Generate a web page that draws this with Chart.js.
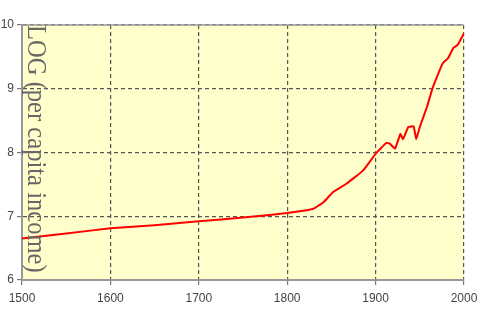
<!DOCTYPE html>
<html>
<head>
<meta charset="utf-8">
<script src="https://cdn.jsdelivr.net/npm/chart.js@4"></script>
<style>
  html, body { margin: 0; padding: 0; background: #fff; }
  #wrap { width: 480px; height: 320px; }
</style>
</head>
<body>
<div id="wrap"><canvas id="incomeChart" width="480" height="320"></canvas></div>
<script>
// years and log per capita income
const years = [1500, 1550, 1600, 1650, 1700, 1750, 1780, 1800, 1820, 1830, 1841, 1852, 1867, 1886, 1900,
  1912, 1916, 1922, 1928, 1931, 1937, 1943, 1946, 1950, 1958, 1964, 1971, 1976, 1982, 1988, 1993, 2000];
const logIncome = [6.65, 6.73, 6.81, 6.86, 6.92, 6.98, 7.02, 7.05, 7.09, 7.12, 7.22, 7.38, 7.51, 7.72, 7.98,
  8.15, 8.14, 8.06, 8.29, 8.21, 8.40, 8.41, 8.21, 8.40, 8.71, 8.99, 9.24, 9.40, 9.48, 9.64, 9.69, 9.87];
const xTicks = [1500, 1600, 1700, 1800, 1900, 2000];
const yTicks = [6, 7, 8, 9, 10];
const yTitle = 'LOG (per capita income)';

const points = years.map((yr, i) => ({ x: yr, y: logIncome[i] }));

// yellow plot background, solid top edge and the rotated title inside the plot
const plotDecor = {
  id: 'plotDecor',
  beforeDraw(chart) {
    const { ctx, chartArea: a } = chart;
    ctx.save();
    ctx.fillStyle = '#FFFFCC';
    ctx.fillRect(a.left, a.top, a.right - a.left, a.bottom - a.top);
    ctx.restore();
  },
  afterDatasetsDraw(chart) {
    const { ctx, chartArea: a } = chart;
    ctx.save();
    ctx.strokeStyle = '#999';
    ctx.lineWidth = 1.5;
    ctx.beginPath();
    ctx.moveTo(a.left, a.top);
    ctx.lineTo(a.right, a.top);
    ctx.stroke();

    // title reads top to bottom, slightly condensed like the original
    ctx.translate(a.left + 6, a.top);
    ctx.rotate(Math.PI / 2);
    ctx.scale(0.91, 1);
    ctx.fillStyle = '#666';
    ctx.font = '27px "Liberation Serif", serif';
    ctx.textAlign = 'left';
    ctx.textBaseline = 'alphabetic';
    ctx.fillText(yTitle, 0, 0);
    ctx.restore();
  }
};

new Chart(document.getElementById('incomeChart'), {
  type: 'line',
  data: {
    datasets: [{
      data: points,
      borderColor: '#FF0000',
      borderWidth: 2,
      pointRadius: 0,
      tension: 0.1,
      fill: false
    }]
  },
  options: {
    responsive: false,
    animation: false,
    layout: { padding: { top: 25, right: 16, left: 0, bottom: 0 } },
    plugins: { legend: { display: false }, tooltip: { enabled: false } },
    scales: {
      x: {
        type: 'linear',
        min: 1500,
        max: 2000,
        afterBuildTicks: s => { s.ticks = xTicks.map(v => ({ value: v })); },
        afterFit: s => { s.height = 40; s.paddingLeft = 0; s.paddingRight = 0; },
        ticks: {
          color: '#444',
          font: { family: '"Liberation Sans", Arial', size: 12 },
          padding: 6,
          callback: v => String(v)
        },
        grid: { color: '#555', lineWidth: 1.2, tickLength: 5, tickColor: '#777' },
        border: { color: '#999', width: 2, dash: [4, 3] }
      },
      y: {
        min: 6,
        max: 10,
        afterBuildTicks: s => { s.ticks = yTicks.map(v => ({ value: v })); },
        afterFit: s => { s.width = 22; s.paddingTop = 0; s.paddingBottom = 0; },
        ticks: {
          color: '#444',
          font: { family: '"Liberation Sans", Arial', size: 12 },
          padding: 3
        },
        grid: { color: '#555', lineWidth: 1.2, tickLength: 5, tickColor: '#777' },
        border: { color: '#999', width: 2, dash: [4, 3] }
      }
    }
  },
  plugins: [plotDecor]
});
</script>
</body>
</html>
